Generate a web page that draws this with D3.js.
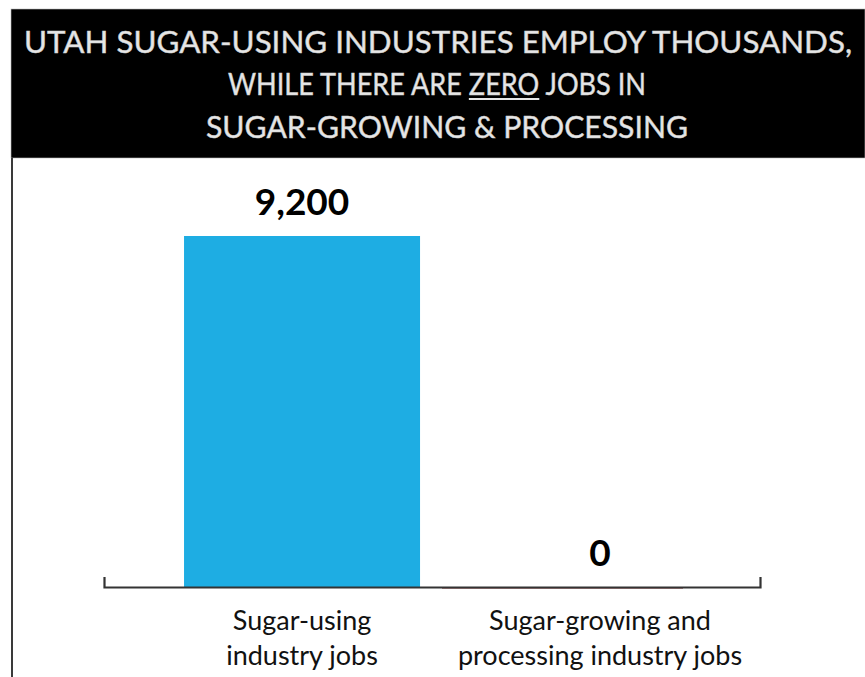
<!DOCTYPE html>
<html>
<head>
<meta charset="utf-8">
<script src="https://cdn.jsdelivr.net/npm/d3@7"></script>
<style>
  body { margin: 0; background: #fff; }
  svg { display: block; }
</style>
</head>
<body>
<div id="chart"></div>
<script>
var svgWidth = 865;
var svgHeight = 677;

// chart data
var categories = ["Sugar-using industry jobs", "Sugar-growing and processing industry jobs"];
var categoryLines = [["Sugar-using", "industry jobs"], ["Sugar-growing and", "processing industry jobs"]];
var jobs = [9200, 0];
var valueLabels = ["9,200", "0"];
var titleLines = [
  "UTAH SUGAR-USING INDUSTRIES EMPLOY THOUSANDS,",
  "WHILE THERE ARE ZERO JOBS IN",
  "SUGAR-GROWING & PROCESSING"
];
var underlined = "ZERO";

var svg = d3.select("#chart")
  .append("svg")
  .attr("width", svgWidth)
  .attr("height", svgHeight);

// header band
svg.append("rect")
  .attr("x", 11)
  .attr("y", 9)
  .attr("width", svgWidth - 11)
  .attr("height", 149)
  .attr("fill", "#000")
  .attr("stroke", "#bbb")
  .attr("stroke-width", 0.6);

// left frame line
svg.append("line")
  .attr("x1", 12).attr("x2", 12)
  .attr("y1", 158).attr("y2", svgHeight)
  .attr("stroke", "#3a3a3a")
  .attr("stroke-width", 2);

var title = svg.append("g")
  .attr("font-family", "Lato, 'Open Sans', sans-serif")
  .attr("font-size", "31px")
  .attr("fill", "#e6e6e6")
  .attr("stroke", "#d0d0d0")
  .attr("stroke-width", 0.5)
  .attr("text-anchor", "middle");

var titleY = [53, 95, 138];
var titleX = [438, 437, 447];
var titleW = [828, 418, 482];
titleLines.forEach(function(line, i) {
  var t = title.append("text")
    .attr("x", titleX[i])
    .attr("y", titleY[i])
    .attr("textLength", titleW[i])
    .attr("lengthAdjust", "spacingAndGlyphs")
    .text(line);

  // underline the key word
  var k = line.indexOf(underlined);
  if (k >= 0) {
    var node = t.node();
    var x0 = node.getStartPositionOfChar(k).x;
    var x1 = node.getEndPositionOfChar(k + underlined.length - 1).x;
    title.append("line")
      .attr("x1", x0).attr("x2", x1)
      .attr("y1", titleY[i] + 4).attr("y2", titleY[i] + 4)
      .attr("stroke", "#e6e6e6")
      .attr("stroke-width", 2);
  }
});

var margin = { top: 236, bottom: 90 };

var x = d3.scaleBand()
  .domain(categories)
  .range([104, 760])
  .paddingInner(0.208)
  .paddingOuter(0.2047)
  .align(0.656);

var y = d3.scaleLinear()
  .domain([0, d3.max(jobs)])
  .range([svgHeight - margin.bottom, margin.top]);

var data = categories.map(function(c, i) {
  return { cat: c, value: jobs[i], label: valueLabels[i], lines: categoryLines[i] };
});

var chartGroup = svg.append("g");

chartGroup.selectAll(".bar")
  .data(data)
  .enter()
  .append("rect")
  .attr("class", "bar")
  .attr("x", d => x(d.cat))
  .attr("y", d => y(d.value))
  .attr("width", x.bandwidth())
  .attr("height", d => y(0) - y(d.value))
  .attr("fill", "#1eade3");

// zero bar shows as a dark red sliver on the axis
chartGroup.selectAll(".zero")
  .data(data.filter(d => d.value === 0))
  .enter()
  .append("line")
  .attr("x1", d => x(d.cat) - 40)
  .attr("x2", d => x(d.cat) + x.bandwidth() - 35)
  .attr("y1", y(0) + 1)
  .attr("y2", y(0) + 1)
  .attr("stroke", "#7a2222")
  .attr("stroke-width", 1);

var bottomAxis = d3.axisBottom(x).tickSize(0).tickSizeOuter(-10).tickFormat("");

var axisG = chartGroup.append("g")
  .attr("transform", `translate(0, ${y(0)})`)
  .call(bottomAxis);
axisG.select(".domain")
  .attr("stroke", "#333")
  .attr("stroke-width", 2.2);

chartGroup.selectAll(".valueText")
  .data(data)
  .enter()
  .append("text")
  .attr("class", "valueText")
  .attr("x", d => x(d.cat) + x.bandwidth() / 2)
  .attr("y", d => y(d.value) - 21)
  .attr("text-anchor", "middle")
  .attr("font-family", "Lato, 'Open Sans', sans-serif")
  .attr("font-weight", "bold")
  .attr("font-size", "37px")
  .attr("fill", "#000")
  .text(d => d.label);

var catText = chartGroup.selectAll(".catText")
  .data(data)
  .enter()
  .append("text")
  .attr("class", "catText")
  .attr("text-anchor", "middle")
  .attr("font-family", "Lato, 'Open Sans', sans-serif")
  .attr("font-size", "27px")
  .attr("fill", "#111");

catText.selectAll("tspan")
  .data(d => d.lines.map(l => ({ line: l, cx: x(d.cat) + x.bandwidth() / 2 })))
  .enter()
  .append("tspan")
  .attr("x", d => d.cx)
  .attr("y", (d, i) => y(0) + 43 + i * 35)
  .text(d => d.line);
</script>
</body>
</html>
